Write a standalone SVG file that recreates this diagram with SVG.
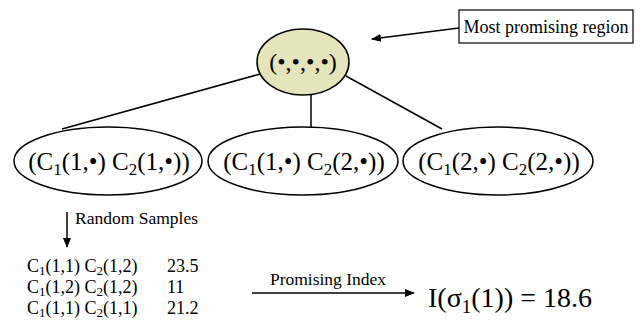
<svg xmlns="http://www.w3.org/2000/svg" width="640" height="324" viewBox="0 0 640 324">
<defs>
<style>
.ln{stroke:#000;stroke-width:1.5;fill:none}
.ell{stroke:#000;stroke-width:1.5;fill:#fff}
</style>
<marker id="ah" markerWidth="10" markerHeight="8" refX="9" refY="4" orient="auto" markerUnits="userSpaceOnUse">
<path d="M0,0 L10,4 L0,8 Z" fill="#000"/>
</marker>
</defs>
<g id="connectors">
<line class="ln" x1="260" y1="74" x2="62" y2="129"/>
<line class="ln" x1="311" y1="95" x2="311" y2="127"/>
<line class="ln" x1="346" y1="76" x2="442" y2="129"/>
<line class="ln" x1="459" y1="28" x2="372" y2="39" marker-end="url(#ah)"/>
<line class="ln" x1="67" y1="212" x2="67" y2="247" marker-end="url(#ah)"/>
<line class="ln" x1="252" y1="293" x2="414" y2="293" marker-end="url(#ah)"/>
</g>
<g font-family="Liberation Serif, DejaVu Serif, serif" fill="#000">
<g id="root">
<ellipse cx="303" cy="62" rx="46" ry="33" fill="#e6e4ba" stroke="#000" stroke-width="1.5"/>
<text font-size="24" x="303" y="70" text-anchor="middle">(•,•,•,•)</text>
</g>
<g id="label-box">
<rect x="459" y="10" width="174" height="33" fill="#fff" stroke="#000" stroke-width="1.2"/>
<text font-size="18" x="546" y="33" text-anchor="middle">Most promising region</text>
</g>
<g id="child1">
<ellipse class="ell" cx="108" cy="161" rx="94" ry="34"/>
<text font-size="25" x="109" y="170" text-anchor="middle">(C<tspan font-size="17" dy="5">1</tspan><tspan dy="-5">(1,•) C</tspan><tspan font-size="17" dy="5">2</tspan><tspan dy="-5">(1,•))</tspan></text>
</g>
<g id="child2">
<ellipse class="ell" cx="303" cy="161" rx="95" ry="34"/>
<text font-size="25" x="304" y="170" text-anchor="middle">(C<tspan font-size="17" dy="5">1</tspan><tspan dy="-5">(1,•) C</tspan><tspan font-size="17" dy="5">2</tspan><tspan dy="-5">(2,•))</tspan></text>
</g>
<g id="child3">
<ellipse class="ell" cx="498" cy="161" rx="95" ry="34"/>
<text font-size="25" x="499" y="170" text-anchor="middle">(C<tspan font-size="17" dy="5">1</tspan><tspan dy="-5">(2,•) C</tspan><tspan font-size="17" dy="5">2</tspan><tspan dy="-5">(2,•))</tspan></text>
</g>
<g id="samples" font-size="18">
<text font-size="17.5" x="75" y="224">Random Samples</text>
<text x="27" y="272">C<tspan font-size="13" dy="3">1</tspan><tspan dy="-3">(1,1) C</tspan><tspan font-size="13" dy="3">2</tspan><tspan dy="-3">(1,2)</tspan></text>
<text x="167" y="272">23.5</text>
<text x="27" y="293">C<tspan font-size="13" dy="3">1</tspan><tspan dy="-3">(1,2) C</tspan><tspan font-size="13" dy="3">2</tspan><tspan dy="-3">(1,2)</tspan></text>
<text x="167" y="293">11</text>
<text x="27" y="314">C<tspan font-size="13" dy="3">1</tspan><tspan dy="-3">(1,1) C</tspan><tspan font-size="13" dy="3">2</tspan><tspan dy="-3">(1,1)</tspan></text>
<text x="167" y="314">21.2</text>
</g>
<g id="index">
<text font-size="17.5" x="328" y="285" text-anchor="middle">Promising Index</text>
<text font-size="28" x="428" y="307">I(σ<tspan font-size="19" dy="6">1</tspan><tspan dy="-6">(1)) = 18.6</tspan></text>
</g>
</g>
</svg>
